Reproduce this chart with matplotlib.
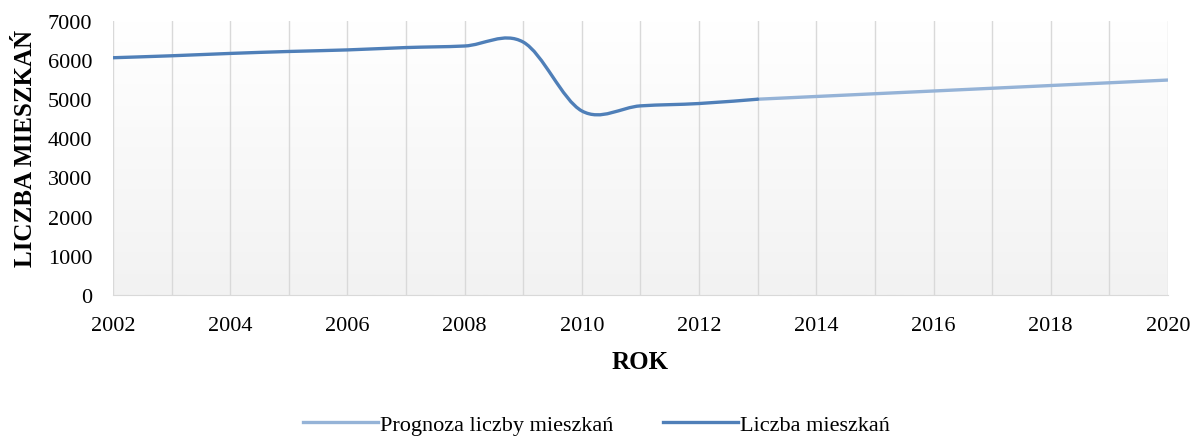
import matplotlib.pyplot as plt
from matplotlib.path import Path
from matplotlib.patches import PathPatch
from matplotlib.lines import Line2D
import numpy as np

plt.rcParams['font.family'] = ['Liberation Serif', 'DejaVu Serif']

years = [2002, 2003, 2004, 2005, 2006, 2007, 2008, 2009, 2010, 2011, 2012, 2013]
residents = [6060, 6110, 6170, 6220, 6260, 6320, 6360, 6460, 4700, 4830, 4890, 5000]

forecast_years = [2013, 2014, 2015, 2016, 2017, 2018, 2019, 2020]
forecast = [5000, 5070, 5140, 5210, 5280, 5350, 5420, 5490]

x_ticks = [2002, 2004, 2006, 2008, 2010, 2012, 2014, 2016, 2018, 2020]
y_ticks = [0, 1000, 2000, 3000, 4000, 5000, 6000, 7000]

MAIN_COLOR = '#4f7fb8'
FORECAST_COLOR = '#95b3d7'


def smooth_path(xs, ys):
    # excel-like smoothed line: catmull-rom turned into cubic bezier segments
    xs = np.asarray(xs, float)
    ys = np.asarray(ys, float)
    n = len(xs)
    verts = [(xs[0], ys[0])]
    codes = [Path.MOVETO]
    for i in range(n - 1):
        i0 = max(i - 1, 0)
        i3 = min(i + 2, n - 1)
        c1 = (xs[i] + (xs[i + 1] - xs[i0]) / 6, ys[i] + (ys[i + 1] - ys[i0]) / 6)
        c2 = (xs[i + 1] - (xs[i3] - xs[i]) / 6, ys[i + 1] - (ys[i3] - ys[i]) / 6)
        verts += [c1, c2, (xs[i + 1], ys[i + 1])]
        codes += [Path.CURVE4] * 3
    return Path(verts, codes)


fig = plt.figure(figsize=(11.93, 4.39), dpi=100)
ax = fig.add_axes([0.0947, 0.326, 0.8843, 0.624])

# plot area gradient (white on top, light grey at bottom)
grad = np.linspace(1, 0, 256).reshape(-1, 1)
ax.imshow(grad, extent=[0, 1, 0, 1], transform=ax.transAxes, aspect='auto',
          cmap=plt.matplotlib.colors.LinearSegmentedColormap.from_list('g', ['#f2f2f2', '#ffffff']),
          zorder=0)

for yr in range(2002, 2021):
    ax.axvline(yr, color='#d9d9d9', lw=1, zorder=1)

ax.add_patch(PathPatch(smooth_path(forecast_years, forecast), fill=False,
                       edgecolor=FORECAST_COLOR, lw=2.4, zorder=3, capstyle='round'))
ax.add_patch(PathPatch(smooth_path(years, residents), fill=False,
                       edgecolor=MAIN_COLOR, lw=2.4, zorder=4, capstyle='round'))

ax.set_xlim(2002, 2020)
ax.set_ylim(0, 7000)
ax.set_xticks(x_ticks)
ax.set_yticks(y_ticks)
ax.tick_params(axis='both', length=0, labelsize=16)
ax.tick_params(axis='x', pad=15)
ax.tick_params(axis='y', pad=15)
for s in ['top', 'right', 'left']:
    ax.spines[s].set_visible(False)
ax.spines['bottom'].set_color('#d9d9d9')

ax.set_xlabel('ROK', fontsize=18, fontweight='bold')
ax.xaxis.set_label_coords(0.5, -0.2)
ax.set_ylabel('LICZBA MIESZKAŃ', fontsize=18, fontweight='bold')
ax.yaxis.set_label_coords(-0.072, 0.54)

handles = [Line2D([], [], color=FORECAST_COLOR, lw=2.4),
           Line2D([], [], color=MAIN_COLOR, lw=2.4)]
fig.legend(handles, ['Prognoza liczby mieszkań', 'Liczba mieszkań'],
           loc='center', bbox_to_anchor=(0.5, 0.03), ncol=2, frameon=False,
           fontsize=16, handlelength=3.4, handletextpad=0.1, columnspacing=2.2)

fig.savefig('out.png', dpi=100)
